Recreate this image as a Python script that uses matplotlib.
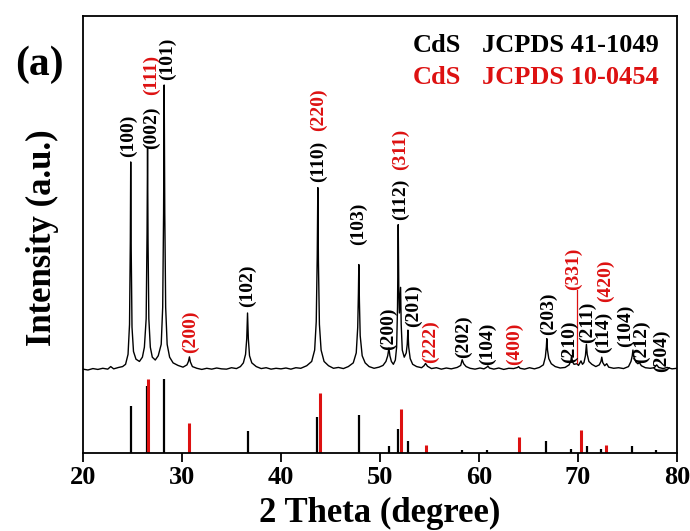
import numpy as np
import matplotlib
matplotlib.use('Agg')
import matplotlib.pyplot as plt

plt.rcParams['font.family'] = ['Liberation Serif', 'DejaVu Serif']
plt.rcParams['font.weight'] = 'bold'

# measured XRD scan (2theta, intensity with baseline 0 and (101) = 100)
scan_2theta = [
    20.0, 20.5, 21.0, 21.5, 22.0, 22.5, 22.8, 23.1, 23.6, 24.0,
    24.3, 24.55, 24.7, 24.78, 24.82, 24.87, 24.95, 25.1, 25.35,
    25.7, 26.0,
    26.2, 26.38, 26.47, 26.52, 26.57, 26.65, 26.8, 27.0,
    27.3, 27.6,
    27.9, 28.05, 28.14, 28.2, 28.26, 28.35, 28.5, 28.75, 29.1, 29.6, 30.1,
    30.5, 30.65, 30.75, 30.85, 31.05, 31.5,
    32.0, 32.5, 33.0, 33.5, 34.0, 34.5, 35.0, 35.5, 35.9,
    36.2, 36.42, 36.54, 36.62, 36.7, 36.82, 37.05, 37.5,
    38.0, 38.5, 39.0, 39.5, 40.0, 40.5, 41.0, 41.5, 42.0, 42.6,
    43.1, 43.4, 43.56, 43.66, 43.72, 43.78, 43.88, 44.05, 44.35, 44.8,
    45.3, 45.8, 46.3, 46.8,
    47.3, 47.6, 47.75, 47.82, 47.86, 47.92, 48.0, 48.2, 48.5, 48.9,
    49.4, 49.9, 50.3,
    50.6, 50.78, 50.9, 51.0, 51.15, 51.35, 51.55,
    51.68, 51.77, 51.84, 51.9, 51.96, 52.04, 52.08, 52.14, 52.25, 52.45,
    52.65, 52.75, 52.82, 52.9, 53.05, 53.3, 53.7,
    54.2, 54.45, 54.6, 54.8, 55.2,
    55.7, 56.2, 56.7, 57.2, 57.8,
    58.15, 58.3, 58.45, 58.7, 59.1,
    59.6, 60.1, 60.5,
    60.8, 60.9, 61.05, 61.5,
    62.0, 62.5, 63.0, 63.5,
    63.9, 64.0, 64.15, 64.6,
    65.1, 65.6, 66.1, 66.5,
    66.7, 66.8, 66.85, 66.92, 67.05, 67.3, 67.7, 68.2,
    68.7, 69.1,
    69.28, 69.35, 69.45, 69.6,
    69.9, 70.05, 70.2, 70.3, 70.45, 70.6,
    70.75, 70.85, 70.93, 71.1, 71.4, 71.8, 72.15,
    72.32, 72.4, 72.5, 72.7,
    72.9, 73.1, 73.6, 74.1, 74.6, 75.1,
    75.35, 75.48, 75.55, 75.65, 75.85, 76.05, 76.2, 76.4, 76.8, 77.3, 77.7,
    77.95, 78.15, 78.6, 79.0, 79.5, 80.0,
]
scan_counts = [
    0.3, 0.0, 0.5, 0.2, 0.6, 0.3, 1.2, 0.4, 0.9, 1.2,
    2.0, 5.5, 16, 45, 73, 42, 15, 6.5, 3.8,
    3.0, 4.5,
    8, 18, 48, 78, 45, 18, 8, 4.5,
    3.5, 5,
    9, 22, 55, 100, 55, 22, 9, 4.5, 2.5, 1.6, 1.0,
    1.8, 3.0, 4.6, 2.8, 1.2, 0.6,
    0.2, 0.6, 0.3, 0.7, 0.4, 0.3, 0.8, 0.5, 1.2,
    2.5, 5.5, 11, 20, 11, 5, 2.5, 1.2,
    0.5, 0.8, 0.3, 0.6, 0.4, 0.7, 0.3, 0.8, 0.6, 1.5,
    3, 7, 17, 40, 64, 38, 16, 7, 3, 1.5,
    0.6, 0.9, 0.5, 1.2,
    2.5, 6, 15, 27, 37, 24, 12, 5, 2.5, 1.2,
    0.6, 1.0, 1.6,
    3.0, 5, 7.7, 5, 3, 2.0, 3.5,
    8, 22, 51, 28, 20, 26, 29, 16, 7, 4.5,
    6, 9, 14, 8, 4, 2, 1.2,
    0.8, 1.5, 2.3, 1.3, 0.5,
    0.8, 0.3, 0.7, 0.4, 0.9,
    1.6, 3.6, 2.2, 1.2, 0.6,
    0.3, 0.7, 0.4,
    1.0, 1.4, 0.7, 0.3,
    0.7, 0.2, 0.6, 0.5,
    0.9, 1.2, 0.6, 0.3,
    0.8, 0.4, 0.9, 1.8,
    4.5, 8, 11, 7, 4, 2.2, 1.2, 0.7,
    0.9, 1.8,
    3.2, 5, 2.8, 2.0,
    2.2, 1.6, 2.6, 3.2, 2.0, 2.6,
    5, 9, 5.5, 3, 2, 1.2, 1.8,
    3.0, 4.5, 2.6, 1.5,
    2.2, 1.0, 0.6, 0.8, 0.5, 1.2,
    3, 5, 7, 4.5, 2.8, 2.2, 2.6, 1.5, 0.8, 0.6, 0.8,
    1.8, 0.9, 0.5, 0.9, 0.4, 0.6,
]

# reference patterns (relative intensity, 100 = strongest)
hex_pos = [24.81, 26.51, 28.18, 36.62, 43.66, 47.84, 50.88, 51.82, 52.80,
           58.28, 60.83, 66.77, 69.27, 70.87, 72.35, 75.47, 77.90]
hex_int = [63, 90, 100, 30, 48, 51, 9, 32, 16, 4, 4, 16, 6, 9, 6, 10, 4]
cub_pos = [26.60, 30.75, 43.92, 52.10, 54.65, 64.00, 70.35, 72.80]
cub_int = [100, 41, 81, 60, 11, 21, 31, 11]

# peak labels (hkl, card): 'k' = 41-1049, 'r' = 10-0454
hkl_text = ['(100)', '(002)', '(111)', '(101)', '(200)', '(102)', '(110)', '(220)',
            '(103)', '(200)', '(112)', '(311)', '(201)', '(222)', '(202)', '(104)',
            '(400)', '(203)', '(210)', '(331)', '(211)', '(114)', '(420)', '(104)',
            '(212)', '(204)']
hkl_card = ['k', 'k', 'r', 'k', 'r', 'k', 'k', 'r',
            'k', 'k', 'k', 'r', 'k', 'r', 'k', 'k',
            'r', 'k', 'k', 'r', 'k', 'k', 'r', 'k',
            'k', 'k']
# label anchor: 2theta and height above the x axis (pixels)
hkl_x = [24.58, 26.95, 26.95, 28.5, 30.85, 36.6, 43.77, 43.77,
         47.8, 50.84, 52.05, 52.05, 53.36, 55.08, 58.4, 60.84,
         63.57, 67.0, 69.13, 69.5, 70.95, 72.6, 72.75, 74.75,
         76.45, 78.45]
hkl_y = [296, 304, 358, 373, 100, 146, 271, 322,
         208, 103, 233, 283, 126, 90, 95, 88,
         88, 118, 90, 163, 110, 100, 151, 106,
         90, 81]

RED = '#dd1111'
colors = {'k': 'black', 'r': RED}

W, H = 690.0, 531.0
fig = plt.figure(figsize=(6.9, 5.31), dpi=100)
ax = fig.add_axes([83 / W, 1 - 453 / H, (677 - 83) / W, (453 - 16) / H])

# scan drawn above the stick patterns
base = 83
scale = 2.85
ax.plot(scan_2theta, base + np.array(scan_counts) * scale, color='black', lw=1.0)

ax.vlines(hex_pos, 0, np.array(hex_int) * 0.74, color='black', lw=1.6)
ax.vlines(cub_pos, 0, np.array(cub_int) * 0.74, color=RED, lw=2.2)

for t, c, x, y in zip(hkl_text, hkl_card, hkl_x, hkl_y):
    ax.text(x, y, t, rotation=90, ha='center', va='bottom', fontsize=14,
            color=colors[c], fontweight='bold')
# leader line for (331)
ax.plot([69.9, 69.9], [90, 163], color=RED, lw=0.9)

ax.set_xlim(20, 80)
ax.set_ylim(0, 437)
ax.set_xticks(range(20, 81, 10))
ax.set_yticks([])
ax.tick_params(axis='x', direction='out', length=6.5, width=1.3, labelsize=19, pad=3)
for s in ax.spines.values():
    s.set_linewidth(1.3)

fig.text(380 / W, 1 - 513 / H, '2 Theta (degree)', ha='center', va='center', fontsize=25)
fig.text(42 / W, 1 - 238 / H, 'Intensity (a.u.)', ha='center', va='center',
         rotation=90, fontsize=25)
fig.text(39 / W, 1 - 65 / H, '(a)', ha='center', va='center', fontsize=30)

fig.text(413 / W, 1 - 45 / H, 'CdS', ha='left', va='center', fontsize=19, color='black')
fig.text(482 / W, 1 - 45 / H, 'JCPDS 41-1049', ha='left', va='center', fontsize=19, color='black')
fig.text(413 / W, 1 - 78 / H, 'CdS', ha='left', va='center', fontsize=19, color=RED)
fig.text(482 / W, 1 - 78 / H, 'JCPDS 10-0454', ha='left', va='center', fontsize=19, color=RED)

fig.savefig('out.png', dpi=100)
